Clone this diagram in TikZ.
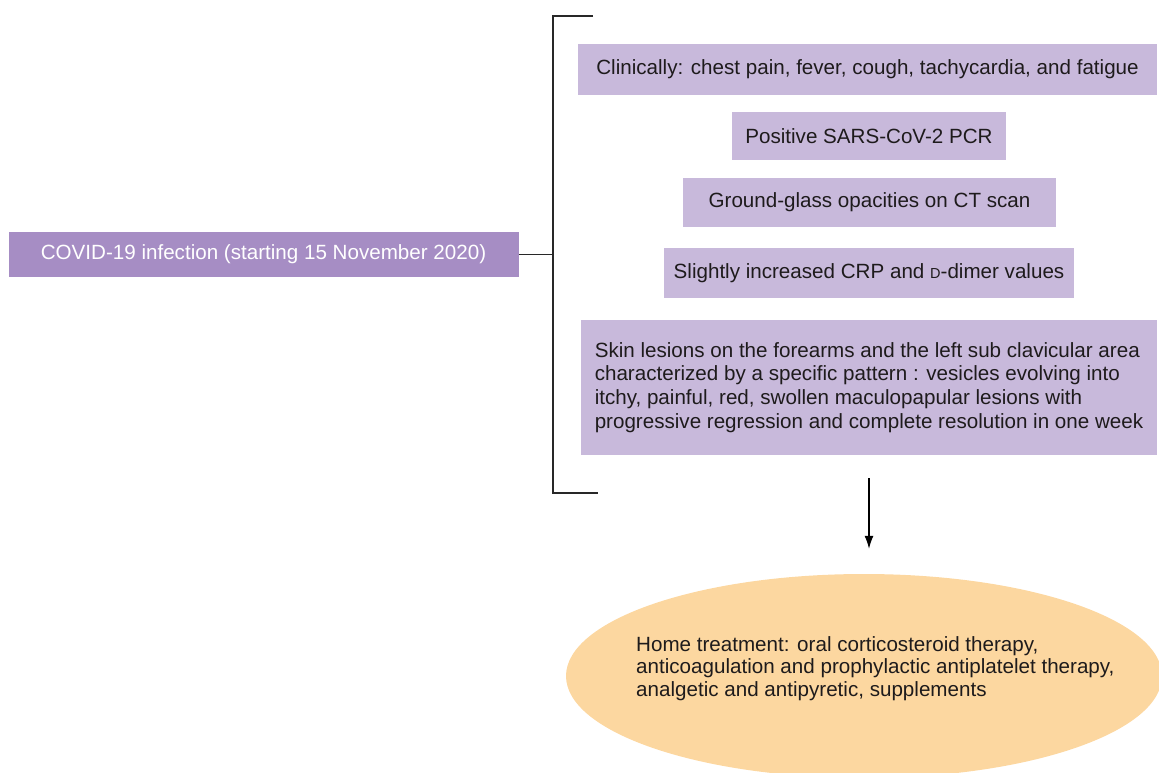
\documentclass[tikz,border=0pt]{standalone}
\usepackage{fontspec}
\setmainfont{Liberation Sans}
\usetikzlibrary{shapes.geometric,arrows.meta}
\definecolor{darkpurple}{RGB}{166,141,196}
\definecolor{lightpurple}{RGB}{200,185,219}
\definecolor{peach}{RGB}{252,215,160}
\definecolor{txt}{RGB}{30,27,28}
\definecolor{linegray}{RGB}{40,40,40}
\newcommand{\fakesc}[1]{{\fontsize{14.5}{14.5}\selectfont #1}}
\tikzset{
  mainbox/.style={fill=darkpurple, text=white, inner sep=0pt, font=\fontsize{20.6}{23.7}\selectfont},
  findbox/.style={fill=lightpurple, text=txt, inner sep=0pt, font=\fontsize{20.6}{23.7}\selectfont},
  bracketline/.style={draw=linegray, line width=1.3pt},
  treatshape/.style={ellipse, fill=peach, inner sep=0pt},
  treattxt/.style={text=txt, align=left, inner sep=0pt, font=\fontsize{20.6}{22.5}\selectfont}
}
\begin{document}
\begin{tikzpicture}[x=1pt,y=-1pt]
\useasboundingbox (0,0) rectangle (1159,772);
\clip (0,0) rectangle (1159,772);
% treatment ellipse
\node[treatshape, minimum width=596pt, minimum height=204pt] (treat) at (864,676) {};
\node[treattxt, anchor=north west] (treattext) at (636,636) {Home treatment: oral corticosteroid therapy,\\anticoagulation and prophylactic antiplatelet therapy,\\analgetic and antipyretic, supplements};
% main box
\node[mainbox, minimum width=510pt, minimum height=45pt] (covid) at (263.5,254.5) {COVID-19 infection (starting 15 November 2020)};
% finding boxes
\node[findbox, minimum width=579pt, minimum height=51pt] (b1) at (867.5,69.5) {Clinically: chest pain, fever, cough, tachycardia, and fatigue};
\node[findbox, minimum width=274pt, minimum height=48pt] (b2) at (869,136) {Positive SARS-CoV-2 PCR};
\node[findbox, minimum width=373pt, minimum height=49pt] (b3) at (869.5,202.5) {Ground-glass opacities on CT scan};
\node[findbox, minimum width=410pt, minimum height=50pt] (b4) at (869,273) {Slightly increased CRP and \fakesc{D}-dimer values};
\node[findbox, minimum width=576pt, minimum height=135pt, align=left] (b5) at (869,387.5) {Skin lesions on the forearms and the left sub clavicular area\\characterized by a specific pattern : vesicles evolving into\\itchy, painful, red, swollen maculopapular lesions with\\progressive regression and complete resolution in one week};
% bracket
\coordinate (bmid) at (553,254.5);
\coordinate (btop) at (553,16);
\coordinate (btopend) at (593,16);
\coordinate (bbot) at (553,493);
\coordinate (bbotend) at (598,493);
\draw[bracketline] (covid.east) -- (bmid);
\draw[bracketline] (btopend) -- (btop) -- (bbot) -- (bbotend);
% arrow
\draw[draw=black, line width=1.2pt, -{Latex[length=13pt,width=9pt]}, shorten <=23pt, shorten >=25pt] (b5.south) -- (b5.south |- treat.north);
\end{tikzpicture}
\end{document}
